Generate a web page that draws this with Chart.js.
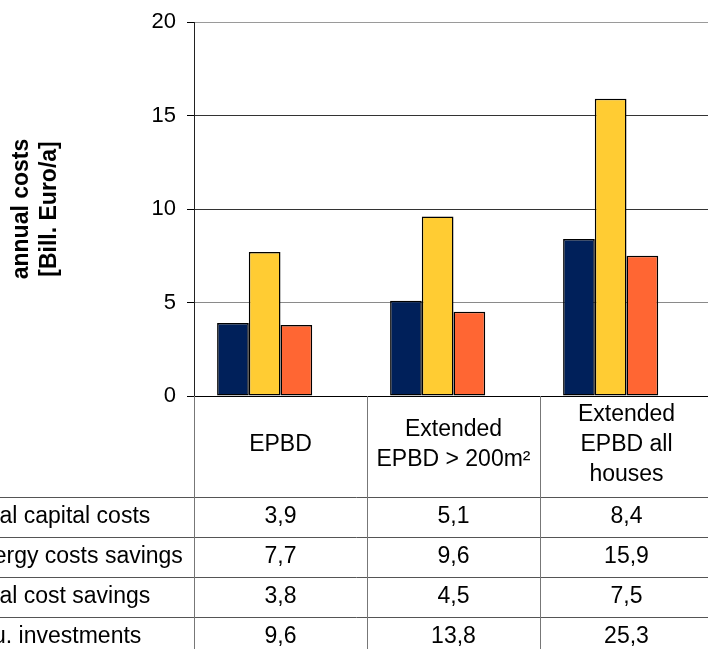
<!DOCTYPE html>
<html>
<head>
<meta charset="utf-8">
<script src="https://cdn.jsdelivr.net/npm/chart.js@4/dist/chart.umd.min.js"></script>
<style>
  html, body { margin: 0; padding: 0; background: #fff; overflow: hidden; }
  canvas { display: block; }
</style>
</head>
<body>
<canvas id="chart" width="716" height="649"></canvas>
<script>
// ── Datos ────────────────────────────────────────────────────
const categories = [
  ['EPBD'],
  ['Extended', 'EPBD > 200m²'],
  ['Extended', 'EPBD all', 'houses']
];
const seriesNames   = ['Annual capital costs', 'Total energy costs savings', 'Annual cost savings', 'Accu. investments'];
const capitalCosts  = [3.9, 5.1, 8.4];
const energySavings = [7.7, 9.6, 15.9];
const costSavings   = [3.8, 4.5, 7.5];
const investments   = [9.6, 13.8, 25.3];
const yTicks        = [0, 5, 10, 15, 20];
const yTitle        = ['annual costs', '[Bill. Euro/a]'];

const FONT = "'Liberation Sans', Arial, sans-serif";
const TICK_SIZE  = 22;
const TABLE_SIZE = 23;

// color de las líneas de la rejilla según el valor
const gridColors = { 0: '#000', 5: '#8a8a8a', 10: '#333', 15: '#333', 20: '#9a9a9a' };

const fmt = v => String(v).replace('.', ',');

// ── Tabla de datos debajo del gráfico ────────────────────────
const dataTable = {
  id: 'dataTable',
  afterDraw(chart) {
    const ctx  = chart.ctx;
    const xs   = chart.scales.x;
    const area = chart.chartArea;
    const H    = chart.height;
    const headerH = 101, rowH = 40, lineH = 30;
    const labelCenter = 48;

    const half = (xs.getPixelForValue(1) - xs.getPixelForValue(0)) / 2;
    const bounds = categories.map((_, i) => xs.getPixelForValue(i) - half);
    bounds.push(xs.getPixelForValue(categories.length - 1) + half);
    const right = bounds[bounds.length - 1];

    const rows = chart.data.datasets.map(ds => ({ label: ds.label, values: ds.data }));

    ctx.save();
    ctx.font = TABLE_SIZE + 'px ' + FONT;
    ctx.fillStyle = '#000';
    ctx.textAlign = 'center';
    ctx.textBaseline = 'middle';

    // cabecera con categorías
    const headerMid = area.bottom + headerH / 2 - 2;
    categories.forEach((lines, i) => {
      const cx = (bounds[i] + bounds[i + 1]) / 2;
      const y0 = headerMid - (lines.length - 1) * lineH / 2;
      lines.forEach((t, j) => ctx.fillText(t, cx, y0 + j * lineH));
    });

    // filas
    rows.forEach((r, k) => {
      const cy = area.bottom + headerH + k * rowH + rowH / 2;
      ctx.fillText(r.label, labelCenter, cy);
      r.values.forEach((v, i) => {
        ctx.fillText(fmt(v), (bounds[i] + bounds[i + 1]) / 2, cy);
      });
    });

    // líneas horizontales
    ctx.strokeStyle = '#555';
    ctx.lineWidth = 1;
    for (let k = 0; k <= rows.length; k++) {
      const y = Math.round(area.bottom + headerH + k * rowH) + 0.5;
      ctx.beginPath();
      ctx.moveTo(0, y);
      ctx.lineTo(right, y);
      ctx.stroke();
    }

    // líneas verticales
    ctx.strokeStyle = '#777';
    bounds.forEach(bx => {
      const x = Math.round(bx) + 0.5;
      ctx.beginPath();
      ctx.moveTo(x, area.bottom);
      ctx.lineTo(x, H);
      ctx.stroke();
    });
    ctx.restore();
  }
};

// ── Gráfico ──────────────────────────────────────────────────
const barStyle = { borderColor: '#000', borderWidth: 1.5, borderSkipped: false };

new Chart(document.getElementById('chart'), {
  type: 'bar',
  data: {
    labels: categories,
    datasets: [
      { label: seriesNames[0], data: capitalCosts,  backgroundColor: '#00205A', ...barStyle },
      { label: seriesNames[1], data: energySavings, backgroundColor: '#FFCC33', ...barStyle },
      { label: seriesNames[2], data: costSavings,   backgroundColor: '#FF6633', ...barStyle },
      // serie sin relleno: solo ocupa su hueco en el grupo
      { label: seriesNames[3], data: investments,   backgroundColor: 'rgba(0,0,0,0)', borderWidth: 0 }
    ]
  },
  options: {
    responsive: false,
    animation: false,
    layout: { padding: { top: 22, right: 3, bottom: 253, left: 0 } },
    datasets: { bar: { categoryPercentage: 0.733, barPercentage: 1 } },
    plugins: { legend: { display: false }, tooltip: { enabled: false } },
    scales: {
      x: { display: false },
      y: {
        min: 0,
        max: 20,
        afterBuildTicks: s => { s.ticks = yTicks.map(v => ({ value: v })); },
        afterFit: s => { s.width = 194; s.paddingTop = 0; s.paddingBottom = 0; },
        ticks: {
          color: '#000',
          padding: 11,
          font: { family: FONT, size: TICK_SIZE }
        },
        grid: {
          color: c => gridColors[c.tick.value] || '#555',
          tickColor: '#000',
          tickLength: 7,
          lineWidth: 1
        },
        border: { color: '#222', width: 1 },
        title: {
          display: true,
          text: yTitle,
          color: '#000',
          padding: { top: 8, bottom: 0 },
          font: { family: FONT, size: TABLE_SIZE, weight: 'bold', lineHeight: 1.22 }
        }
      }
    }
  },
  plugins: [dataTable]
});
</script>
</body>
</html>
